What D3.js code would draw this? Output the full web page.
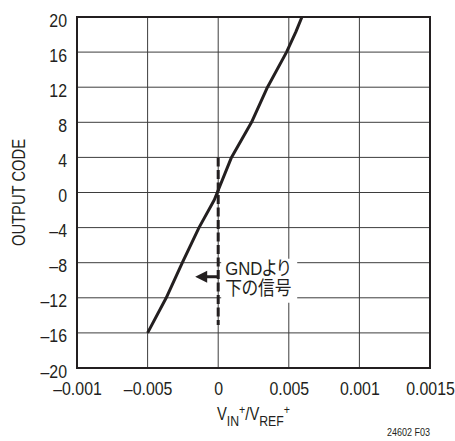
<!DOCTYPE html>
<html>
<head>
<meta charset="utf-8">
<script src="https://cdn.jsdelivr.net/npm/d3@7"></script>
<style>
  html, body { margin: 0; padding: 0; background: #fff; }
  svg { display: block; }
  text { font-family: "Liberation Sans", "Noto Sans CJK JP", sans-serif; fill: #231f20; }
</style>
</head>
<body>
<svg id="chart" width="455" height="441"></svg>
<script>
// Transfer curve: output code vs normalized input
const inputValues = [-0.005, -0.00368, -0.00254, -0.00136, -0.00028, 0.00094, 0.00236, 0.00349, 0.00484, 0.0055, 0.00593];
const outputCodes = [-16, -12, -8, -4, -0.85, 4, 8, 12, 16, 18.3, 20];

// Axis ticks and their printed labels
const xTickValues = [-0.01, -0.005, 0, 0.005, 0.01, 0.015];
const xTickLabels = ["–0.001", "–0.005", "0", "0.005", "0.001", "0.0015"];
const yTickValues = [20, 16, 12, 8, 4, 0, -4, -8, -12, -16, -20];
const yTickLabels = ["20", "16", "12", "8", "4", "0", "–4", "–8", "–12", "–16", "–20"];

// Zero marker and the "below ground" annotation
const zeroMarker = { x: 0, yTop: 4, yBottom: -15.1 };
const arrowSpan = { xFrom: 0, xTo: -0.00163, y: -9.6 };
const noteLines = ["GNDより", "下の信号"];

const NARROW = 0.82; // horizontal squeeze for a condensed face

// Squeeze a text horizontally around its own x anchor
function condense(sel, k = NARROW) {
  sel.each(function () {
    const t = d3.select(this);
    const x0 = +(t.attr("x") || 0);
    t.attr("transform", `translate(${x0},0) scale(${k},1) translate(${-x0},0)`);
  });
}

const svg = d3.select("#chart");
const plot = { left: 77, right: 430, top: 17, bottom: 368 };

const x = d3.scaleLinear().domain([-0.01, 0.015]).range([plot.left, plot.right]);
const y = d3.scaleLinear().domain([-20, 20]).range([plot.bottom, plot.top]);

// Grid
const grid = svg.append("g");
grid.selectAll("line.v").data(xTickValues).join("line")
  .attr("x1", d => x(d)).attr("x2", d => x(d))
  .attr("y1", plot.top).attr("y2", plot.bottom)
  .attr("stroke", "#3d3d3d").attr("stroke-width", 1);
grid.selectAll("line.h").data(yTickValues).join("line")
  .attr("x1", plot.left).attr("x2", plot.right)
  .attr("y1", d => y(d)).attr("y2", d => y(d))
  .attr("stroke", "#3d3d3d").attr("stroke-width", 1);

// Tick labels via d3 axes (no tick marks)
const xAxis = d3.axisBottom(x).tickValues(xTickValues)
  .tickFormat((d, i) => xTickLabels[i]).tickSize(0);
const yAxis = d3.axisLeft(y).tickValues(yTickValues)
  .tickFormat((d, i) => yTickLabels[i]).tickSize(0).tickPadding(10);

const gx = svg.append("g").attr("transform", `translate(0,${plot.bottom})`).call(xAxis);
const gy = svg.append("g").attr("transform", `translate(${plot.left},0)`).call(yAxis);
[gx, gy].forEach(g => {
  g.select(".domain").remove();
  g.selectAll("text").attr("font-size", 18.5)
    .style("font-family", '"Liberation Sans", sans-serif')
    .attr("fill", "#231f20");
});
gx.selectAll("text").attr("y", 27).attr("dy", null);
gy.selectAll("text").attr("dy", "0.49em");
gx.selectAll("text").call(condense, 0.86);
gy.selectAll("text").call(condense, 0.86);

// Annotation: white backing for the note
const noteX = x(0) + 7;
const ay = y(arrowSpan.y);
svg.append("rect")
  .attr("x", noteX - 4).attr("y", ay - 18)
  .attr("width", 76).attr("height", 44)
  .attr("fill", "#fff");

// Zero line (dashed)
svg.append("line")
  .attr("x1", x(zeroMarker.x)).attr("x2", x(zeroMarker.x))
  .attr("y1", y(zeroMarker.yTop)).attr("y2", y(zeroMarker.yBottom))
  .attr("stroke", "#231f20").attr("stroke-width", 3)
  .attr("stroke-dasharray", "9,3.5");

// Arrow pointing toward negative inputs
svg.append("line")
  .attr("x1", x(arrowSpan.xFrom)).attr("x2", x(arrowSpan.xTo) + 8)
  .attr("y1", ay).attr("y2", ay)
  .attr("stroke", "#231f20").attr("stroke-width", 3);
svg.append("path")
  .attr("d", `M${x(arrowSpan.xTo)},${ay} L${x(arrowSpan.xTo) + 12},${ay - 6} L${x(arrowSpan.xTo) + 12},${ay + 6} Z`)
  .attr("fill", "#231f20");

// Note text
svg.append("g").selectAll("text").data(noteLines).join("text")
  .attr("x", noteX)
  .attr("y", (d, i) => ay - 2 + i * 20)
  .attr("font-size", 19)
  .style("font-feature-settings", '"palt"')
  .text(d => d)
  .call(condense, 0.88);

// Plot frame
svg.append("rect")
  .attr("x", plot.left).attr("y", plot.top)
  .attr("width", plot.right - plot.left).attr("height", plot.bottom - plot.top)
  .attr("fill", "none").attr("stroke", "#231f20").attr("stroke-width", 2);

// Transfer curve
const pts = inputValues.map((v, i) => [v, outputCodes[i]]);
svg.append("path")
  .datum(pts)
  .attr("fill", "none")
  .attr("stroke", "#231f20")
  .attr("stroke-width", 3)
  .attr("stroke-linejoin", "round")
  .attr("d", d3.line().x(d => x(d[0])).y(d => y(d[1])));

// Axis titles
svg.append("text")
  .attr("transform", `translate(25,${(plot.top + plot.bottom) / 2}) rotate(-90) scale(${NARROW},1)`)
  .attr("text-anchor", "middle")
  .attr("font-size", 18)
  .text("OUTPUT CODE");

const xt = svg.append("text")
  .attr("x", (plot.left + plot.right) / 2)
  .attr("y", 420)
  .attr("text-anchor", "middle")
  .attr("font-size", 18);
xt.append("tspan").text("V");
xt.append("tspan").attr("dy", 6).attr("font-size", 15).text("IN");
xt.append("tspan").attr("dy", -12).attr("font-size", 13).text("+");
xt.append("tspan").attr("dy", 6).text("/V");
xt.append("tspan").attr("dy", 6).attr("font-size", 15).text("REF");
xt.append("tspan").attr("dy", -12).attr("font-size", 13).text("+");
xt.call(condense);

// Figure id
svg.append("text")
  .attr("x", plot.right).attr("y", 436)
  .attr("text-anchor", "end")
  .attr("font-size", 11)
  .text("24602 F03")
  .call(condense);
</script>
</body>
</html>
